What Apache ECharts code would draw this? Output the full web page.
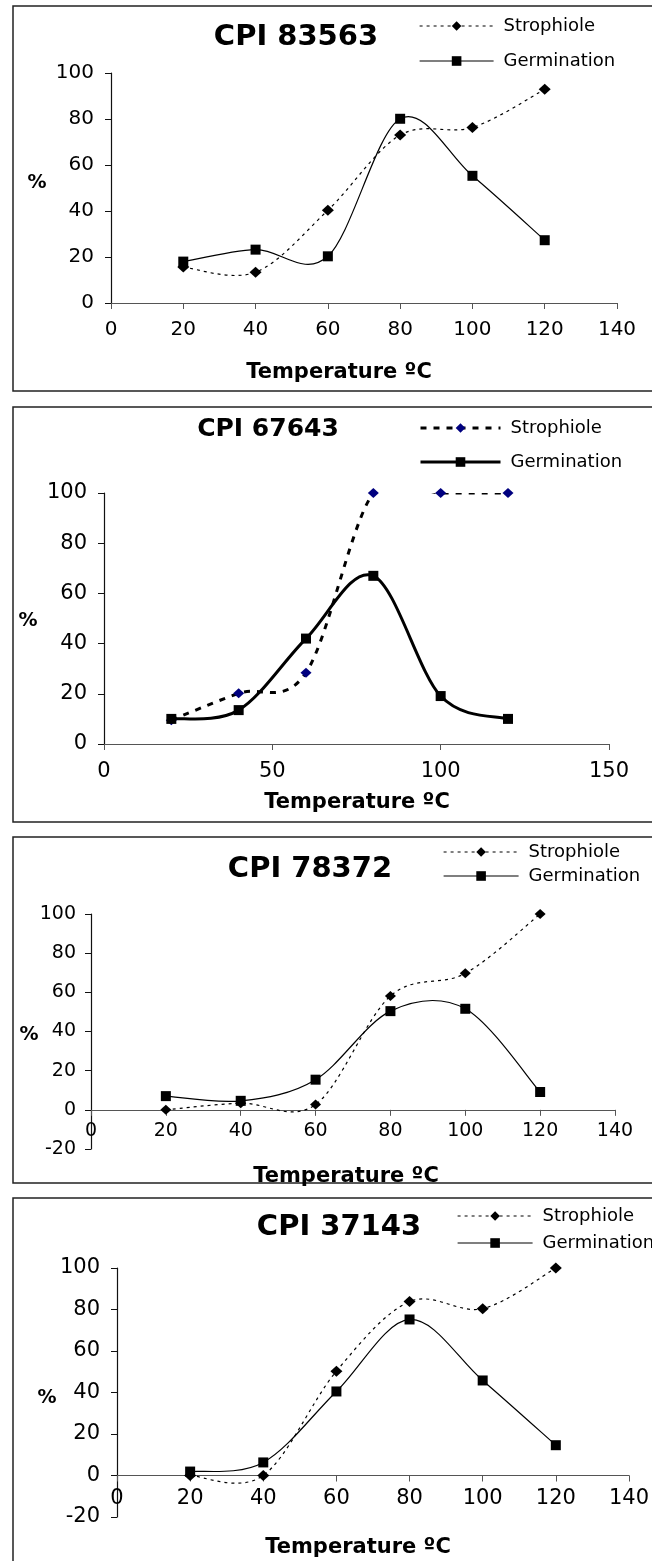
<!DOCTYPE html>
<html>
<head>
<meta charset="utf-8">
<script src="https://cdn.jsdelivr.net/npm/echarts@6/dist/echarts.min.js"></script>
<style>
html,body{margin:0;padding:0;background:#fff;}
.panel{position:absolute;left:0;width:652px;}
</style>
</head>
<body>
<div id="p1" class="panel" style="top:0;height:398px"></div>
<div id="p2" class="panel" style="top:398px;height:432px"></div>
<div id="p3" class="panel" style="top:830px;height:360px"></div>
<div id="p4" class="panel" style="top:1190px;height:371px"></div>
<script>
// ---------------- DATA ----------------
const temperatures = [20, 40, 60, 80, 100, 120];
const seriesNames = ['Strophiole', 'Germination'];
const titles = ['CPI 83563', 'CPI 67643', 'CPI 78372', 'CPI 37143'];
const xAxisTitle = 'Temperature ºC';
const yAxisTitle = '%';

const strophiole83563 = [15.6, 13.4, 40.3, 73, 76.3, 92.9];
const germination83563 = [18, 23.2, 20.3, 80.1, 55.3, 27.3];
const strophiole67643 = [9.5, 20.2, 28.4, 100, 100, 100];
const germination67643 = [10, 13.5, 42, 67, 19.1, 10];
const strophiole78372 = [0, 3.4, 2.7, 58.1, 69.7, 100];
const germination78372 = [7, 4.6, 15.4, 50.4, 51.6, 9.1];
const strophiole37143 = [0, 0, 50.3, 83.8, 80.4, 100];
const germination37143 = [1.9, 6.3, 40.5, 75.2, 45.8, 14.6];

// axis ranges: [min, max, interval]
const xRange83563 = [0, 140, 20], yRange83563 = [0, 100, 20];
const xRange67643 = [0, 150, 50], yRange67643 = [0, 100, 20];
const xRange78372 = [0, 140, 20], yRange78372 = [-20, 100, 20];
const xRange37143 = [0, 140, 20], yRange37143 = [-20, 100, 20];

// ---------------- LAYOUT / STYLE ----------------
const FONT = '"DejaVu Sans", "Liberation Sans", Arial, sans-serif';

const panels = [
  { el: 'p1', title: titles[0], s: strophiole83563, g: germination83563, xr: xRange83563, yr: yRange83563,
    border: [13, 6, 700, 385], grid: [111, 73, 506, 230], titlePos: [296, 37], titleSize: 29,
    legendX: 419, legendY: [23, 58], legendW: 74, pct: [37, 183], temp: [339, 373],
    labelSize: 20, yMargin: 17, xMargin: 17, thick: false, sq: 10, dia: [12, 11] },
  { el: 'p2', title: titles[1], s: strophiole67643, g: germination67643, xr: xRange67643, yr: yRange67643,
    border: [13, 9, 700, 415], grid: [104, 95, 505, 251], titlePos: [268, 31], titleSize: 25,
    legendX: 419, legendY: [27, 61], legendW: 80, pct: [28, 223], temp: [357, 405],
    labelSize: 21, yMargin: 17, xMargin: 17, thick: true, sq: 10, dia: [11, 10] },
  { el: 'p3', title: titles[2], s: strophiole78372, g: germination78372, xr: xRange78372, yr: yRange78372,
    border: [13, 7, 700, 346], grid: [91, 84, 524, 235], titlePos: [310, 39], titleSize: 29,
    legendX: 443, legendY: [19, 43], legendW: 75, pct: [29, 205], temp: [346, 347],
    labelSize: 19, yMargin: 15, xMargin: 12, thick: false, sq: 10, dia: [11, 10] },
  { el: 'p4', title: titles[3], s: strophiole37143, g: germination37143, xr: xRange37143, yr: yRange37143,
    border: [13, 8, 700, 420], grid: [117, 78, 519, 249], titlePos: [339, 37], titleSize: 29,
    legendX: 457, legendY: [23, 50], legendW: 75, pct: [47, 208], temp: [358, 358],
    labelSize: 21, yMargin: 17, xMargin: 13, thick: false, sq: 10, dia: [12, 11] }
];

function pairs(vals) { return temperatures.map((t, i) => [t, vals[i]]); }

// Excel-like smoothed path (Bezier with Catmull-Rom control points, 1/6 tension) through api.coord
function smoothPath(pts) {
  let d = 'M' + pts[0][0] + ' ' + pts[0][1];
  for (let i = 0; i < pts.length - 1; i++) {
    const p0 = pts[i - 1] || pts[i], p1 = pts[i], p2 = pts[i + 1], p3 = pts[i + 2] || pts[i + 1];
    const c1x = p1[0] + (p2[0] - p0[0]) / 6, c1y = p1[1] + (p2[1] - p0[1]) / 6;
    const c2x = p2[0] - (p3[0] - p1[0]) / 6, c2y = p2[1] - (p3[1] - p1[1]) / 6;
    d += ' C' + c1x + ' ' + c1y + ' ' + c2x + ' ' + c2y + ' ' + p2[0] + ' ' + p2[1];
  }
  return d;
}

panels.forEach(p => {
  const chart = echarts.init(document.getElementById(p.el), null, { renderer: 'canvas' });
  const lw = p.thick ? 3 : 1.2;
  const dash = p.thick ? [6, 7] : [3, 4];
  const zeroOffset = -p.grid[3] * (0 - p.yr[0]) / (p.yr[1] - p.yr[0]);
  const legendFor = (name, y, type) => ({
    data: [name], left: p.legendX, top: y - 6, padding: 0,
    itemWidth: p.legendW, itemHeight: 12, selectedMode: false,
    lineStyle: { color: '#000', width: lw, type: type, opacity: 1 },
    textStyle: { fontFamily: FONT, fontSize: 18, color: '#000', lineHeight: 12, padding: [0, 0, 0, 5] }
  });
  const option = {
    animation: false,
    backgroundColor: '#fff',
    grid: { left: p.grid[0], top: p.grid[1], width: p.grid[2], height: p.grid[3], containLabel: false },
    xAxis: {
      type: 'value', min: p.xr[0], max: p.xr[1], interval: p.xr[2], offset: zeroOffset,
      axisLine: { onZero: false, lineStyle: { color: '#555', width: 1.2 } },
      axisTick: { show: true, length: 6, lineStyle: { color: '#555' } },
      axisLabel: { fontFamily: FONT, fontSize: p.labelSize, color: '#000', margin: p.xMargin },
      splitLine: { show: false }
    },
    yAxis: {
      type: 'value', min: p.yr[0], max: p.yr[1], interval: p.yr[2],
      axisLine: { show: true, onZero: false, lineStyle: { color: '#111', width: 1.2 } },
      axisTick: { show: true, length: 6, lineStyle: { color: '#111' } },
      axisLabel: { fontFamily: FONT, fontSize: p.labelSize, color: '#000', margin: p.yMargin },
      splitLine: { show: false }
    },
    legend: [legendFor(seriesNames[0], p.legendY[0], dash), legendFor(seriesNames[1], p.legendY[1], 'solid')],
    series: [
      {
        type: 'custom', silent: true, clip: true, z: 2,
        data: [[temperatures[0], p.s[0]], [temperatures[0], p.g[0]]],
        renderItem: (params, api) => {
          const vals = params.dataIndex === 0 ? p.s : p.g;
          const pts = temperatures.map((t, i) => api.coord([t, vals[i]]));
          return {
            type: 'path',
            shape: { pathData: smoothPath(pts) },
            style: { fill: 'none', stroke: '#000', lineWidth: lw, lineDash: params.dataIndex === 0 ? dash : null }
          };
        }
      },
      {
        name: seriesNames[0], type: 'line', data: pairs(p.s),
        symbol: 'diamond', symbolSize: p.dia, showSymbol: true,
        itemStyle: { color: p.thick ? '#00007f' : '#000' },
        lineStyle: { color: '#000', width: lw, opacity: 0 },
        z: 3
      },
      {
        name: seriesNames[1], type: 'line', data: pairs(p.g),
        symbol: 'rect', symbolSize: p.sq, showSymbol: true,
        itemStyle: { color: '#000' },
        lineStyle: { color: '#000', width: lw, opacity: 0 },
        z: 4
      }
    ],
    graphic: [
      { type: 'rect', shape: { x: p.border[0], y: p.border[1], width: p.border[2], height: p.border[3] },
        style: { fill: 'none', stroke: '#222', lineWidth: 1.5 }, silent: true, z: -1 },
      { type: 'text', x: p.titlePos[0], y: p.titlePos[1],
        style: { text: p.title, fontFamily: FONT, fontWeight: 'bold', fontSize: p.titleSize, fill: '#000', align: 'center', verticalAlign: 'middle' } },
      { type: 'text', x: p.pct[0], y: p.pct[1],
        style: { text: yAxisTitle, fontFamily: FONT, fontWeight: 'bold', fontSize: 19, fill: '#000', align: 'center', verticalAlign: 'middle' } },
      { type: 'text', x: p.temp[0], y: p.temp[1],
        style: { text: xAxisTitle, fontFamily: FONT, fontWeight: 'bold', fontSize: 21, fill: '#000', align: 'center', verticalAlign: 'middle' } }
    ]
  };
  chart.setOption(option);
});
</script>
</body>
</html>
